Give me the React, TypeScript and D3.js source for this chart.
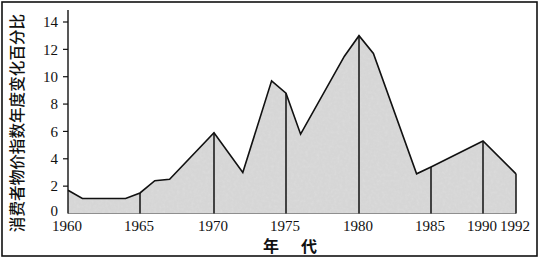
import React from "react";
import * as d3 from "d3";

const years = [1960, 1961, 1964, 1965, 1966, 1967, 1970, 1972, 1974, 1975, 1976, 1979, 1980, 1981, 1984, 1985, 1990, 1992];
const cpi = [1.7, 1.1, 1.1, 1.5, 2.4, 2.5, 5.9, 3.0, 9.7, 8.8, 5.8, 11.5, 13.0, 11.7, 2.9, 3.4, 5.3, 2.9];
const xTicks = [1960, 1965, 1970, 1975, 1980, 1985, 1990, 1992];
const dividerYears = [1965, 1970, 1975, 1980, 1985, 1990, 1992];
const yTicks = [0, 2, 4, 6, 8, 10, 12, 14];
const yTitle = "消费者物价指数年度变化百分比";
const xTitle = "年代";

const W = 539;
const H = 259;

export default function App() {
  const x = d3
    .scaleLinear()
    .domain(xTicks)
    .range([68, 140, 214, 286, 359, 431, 483, 516]);
  const y = d3.scaleLinear().domain([0, 14]).range([213.5, 22]);

  const data = years.map((yr, i) => ({ yr, v: cpi[i] }));
  const area = d3
    .area<{ yr: number; v: number }>()
    .x((d) => x(d.yr))
    .y0(y(0))
    .y1((d) => y(d.v));
  const line = d3
    .line<{ yr: number; v: number }>()
    .x((d) => x(d.yr))
    .y((d) => y(d.v));
  const valueAt = (yr: number) => cpi[years.indexOf(yr)];

  const serif = "'Liberation Serif', 'Times New Roman', serif";
  const cjk = "'Noto Sans CJK SC', sans-serif";

  return (
    <svg
      width={W}
      height={H}
      style={{ position: "absolute", left: 0, top: 0, background: "#fff" }}
    >
      <defs>
        <filter id="tex" x="0" y="0" width="100%" height="100%">
          <feTurbulence type="fractalNoise" baseFrequency="0.35" numOctaves="2" seed="3" result="n" />
          <feColorMatrix
            in="n"
            type="matrix"
            values="0 0 0 0 0.74  0 0 0 0 0.74  0 0 0 0 0.74  0.9 0 0 0 -0.3"
            result="c"
          />
          <feComposite in="c" in2="SourceGraphic" operator="in" result="t" />
          <feMerge>
            <feMergeNode in="SourceGraphic" />
            <feMergeNode in="t" />
          </feMerge>
        </filter>
      </defs>
      <rect x={2} y={2} width={535} height={254} fill="#fff" stroke="#111" strokeWidth={1.6} />
      <path d={area(data) || ""} fill="#d6d6d6" filter="url(#tex)" />
      <line x1={x(1960)} x2={x(1992)} y1={y(0)} y2={y(0)} stroke="#777" strokeWidth={0.8} />
      {dividerYears.map((yr) => (
        <line
          key={yr}
          x1={x(yr)}
          x2={x(yr)}
          y1={y(0)}
          y2={y(valueAt(yr))}
          stroke="#111"
          strokeWidth={1.5}
        />
      ))}
      <path d={line(data) || ""} fill="none" stroke="#111" strokeWidth={1.6} strokeLinejoin="miter" />
      <line x1={x(1960)} x2={x(1960)} y1={y(0)} y2={10} stroke="#111" strokeWidth={1.4} />
      {yTicks.map((t) => (
        <g key={t}>
          {t > 0 && (
            <line x1={x(1960) - 5} x2={x(1960)} y1={y(t)} y2={y(t)} stroke="#111" strokeWidth={1.2} />
          )}
          <text
            x={58}
            y={y(t) - (t === 0 ? 2.5 : 0)}
            dy="0.35em"
            textAnchor="end"
            fontFamily={serif}
            fontSize={15}
            fill="#111"
          >
            {t}
          </text>
        </g>
      ))}
      {xTicks.map((t) => (
        <text
          key={t}
          x={x(t) - 1}
          y={231}
          textAnchor="middle"
          fontFamily={serif}
          fontSize={15}
          fill="#111"
        >
          {t}
        </text>
      ))}
      <text
        transform={`translate(23, 123) rotate(-90)`}
        textAnchor="middle"
        fontFamily={cjk}
        fontSize={15.6}
        fontWeight={500}
        fill="#111"
      >
        {yTitle}
      </text>
      <text
        x={263}
        y={252}
        fontFamily={cjk}
        fontSize={16}
        fontWeight={700}
        letterSpacing={22}
        fill="#111"
      >
        {xTitle}
      </text>
    </svg>
  );
}
